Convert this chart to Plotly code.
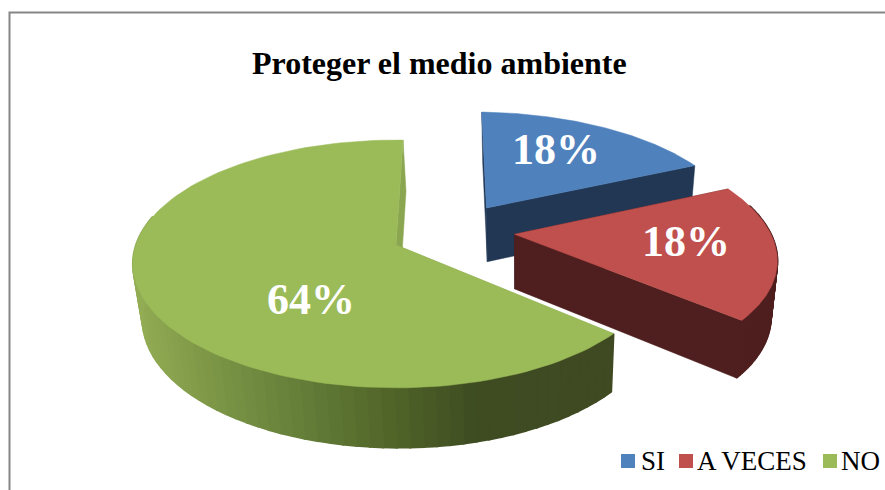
import math
import numpy as np
import plotly.graph_objects as go

categories = ["SI", "A VECES", "NO"]
values = [17.8, 18.15, 64.05]
top_colors = ["#4F81BD", "#C0504D", "#9BBB59"]
wall_colors = ["#213754", "#4F1F1F", "#3F4A22"]
cut_colors = ["#213754", "#4F1F1F", "#8AA650"]
explode = [(0.365, 0.321), (0.462, 0.09), (0.0, 0.0)]
label_pos = [(555.5, 149), (686, 241), (310.5, 299)]
legend_swatch_x = [628, 686, 830]
legend_text_x = [641, 697, 841]
green_stops_x = [133, 200, 300, 400, 480, 610]
green_stops_rgb = [(0x93, 0xAD, 0x55), (0x80, 0x9A, 0x49), (0x66, 0x80, 0x3A),
                   (0x50, 0x64, 0x28), (0x3F, 0x4D, 0x22), (0x3F, 0x4A, 0x22)]

CX, CY, A, B, K = 396.0, 245.0, 260.0, 121.0, 0.153
H, VX, VF = 55.0, 520.0, 0.025
START = 1.8


def proj(X, Y, low=False):
    d = 1 + K * Y
    x = CX + A * X / d
    y = CY - B * Y / d
    if low:
        x = x + (VX - x) * VF
        y = y + H / math.sqrt(d)
    return x, y


def rim(i, t):
    r = math.radians(t)
    return explode[i][0] + math.sin(r), explode[i][1] + math.cos(r)


def poly(xs, ys, color, width=0.5):
    return go.Scatter(x=xs, y=ys, mode="lines", fill="toself", fillcolor=color,
                      line=dict(color=color, width=width),
                      hoverinfo="skip", showlegend=False)


fig = go.Figure()
total = sum(values)
edges = [START]
for v in values:
    edges.append(edges[-1] + v / total * 360)


def quad(p, q, color, width=0.5):
    a, b = proj(*p), proj(*q)
    c, d = proj(*q, low=True), proj(*p, low=True)
    return poly([a[0], b[0], c[0], d[0], a[0]], [a[1], b[1], c[1], d[1], a[1]], color, width)


def green_color(x):
    return "rgb(%d,%d,%d)" % tuple(
        int(np.interp(x, green_stops_x, [s[j] for s in green_stops_rgb])) for j in range(3))


for i in range(3):
    t0, t1 = edges[i], edges[i + 1]
    ap = explode[i]
    # cut faces
    fig.add_trace(quad(ap, rim(i, t0), cut_colors[i]))
    fig.add_trace(quad(ap, rim(i, t1), cut_colors[i]))
    # rim wall in small steps, back to front
    ts = np.linspace(t0, t1, 90)
    for a, b in zip(ts[:-1], ts[1:]):
        p, q = rim(i, a), rim(i, b)
        if i == 2:
            col = green_color(proj(*p)[0])
        else:
            col = wall_colors[i]
        if math.cos(math.radians((a + b) / 2)) < 0.25:
            fig.add_trace(quad(p, q, col, 2))
    # top face
    pts = [ap] + [rim(i, t) for t in np.linspace(t0, t1, 120)] + [ap]
    xy = [proj(*p) for p in pts]
    fig.add_trace(poly([p[0] for p in xy], [p[1] for p in xy], top_colors[i]))

for name, col, sx, tx in zip(categories, top_colors, legend_swatch_x, legend_text_x):
    fig.add_trace(go.Scatter(x=[sx], y=[461], mode="markers", name=name, showlegend=False,
                             hoverinfo="skip", cliponaxis=False,
                             marker=dict(symbol="square", size=14, color=col)))
    fig.add_annotation(x=tx, y=461, text=name, showarrow=False, xanchor="left", xshift=-2,
                       font=dict(family="Liberation Serif", size=27, color="black"))

for v, (x, y) in zip(values, label_pos):
    fig.add_annotation(x=x, y=y, text="<b>%d%%</b>" % round(v / total * 100), showarrow=False,
                       font=dict(family="Liberation Serif", size=44, color="white"))

fig.add_annotation(x=439.5, y=63, text="<b>Proteger el medio ambiente</b>", showarrow=False,
                   font=dict(family="Liberation Serif", size=32, color="black"))

fig.add_shape(type="rect", xref="x", yref="y", x0=9.5, y0=12.5, x1=900, y1=500,
              line=dict(color="#868686", width=2), layer="below")

fig.update_layout(
    width=885, height=490, margin=dict(l=0, r=0, t=0, b=0, pad=0),
    paper_bgcolor="white", plot_bgcolor="white", autosize=False, showlegend=False,
    xaxis=dict(range=[0, 885], visible=False, fixedrange=True),
    yaxis=dict(range=[490, 0], visible=False, fixedrange=True),
)
fig.write_html("out.html", config=dict(displayModeBar=False),
               post_script="document.body.style.margin='0';document.body.style.overflow='hidden';")
